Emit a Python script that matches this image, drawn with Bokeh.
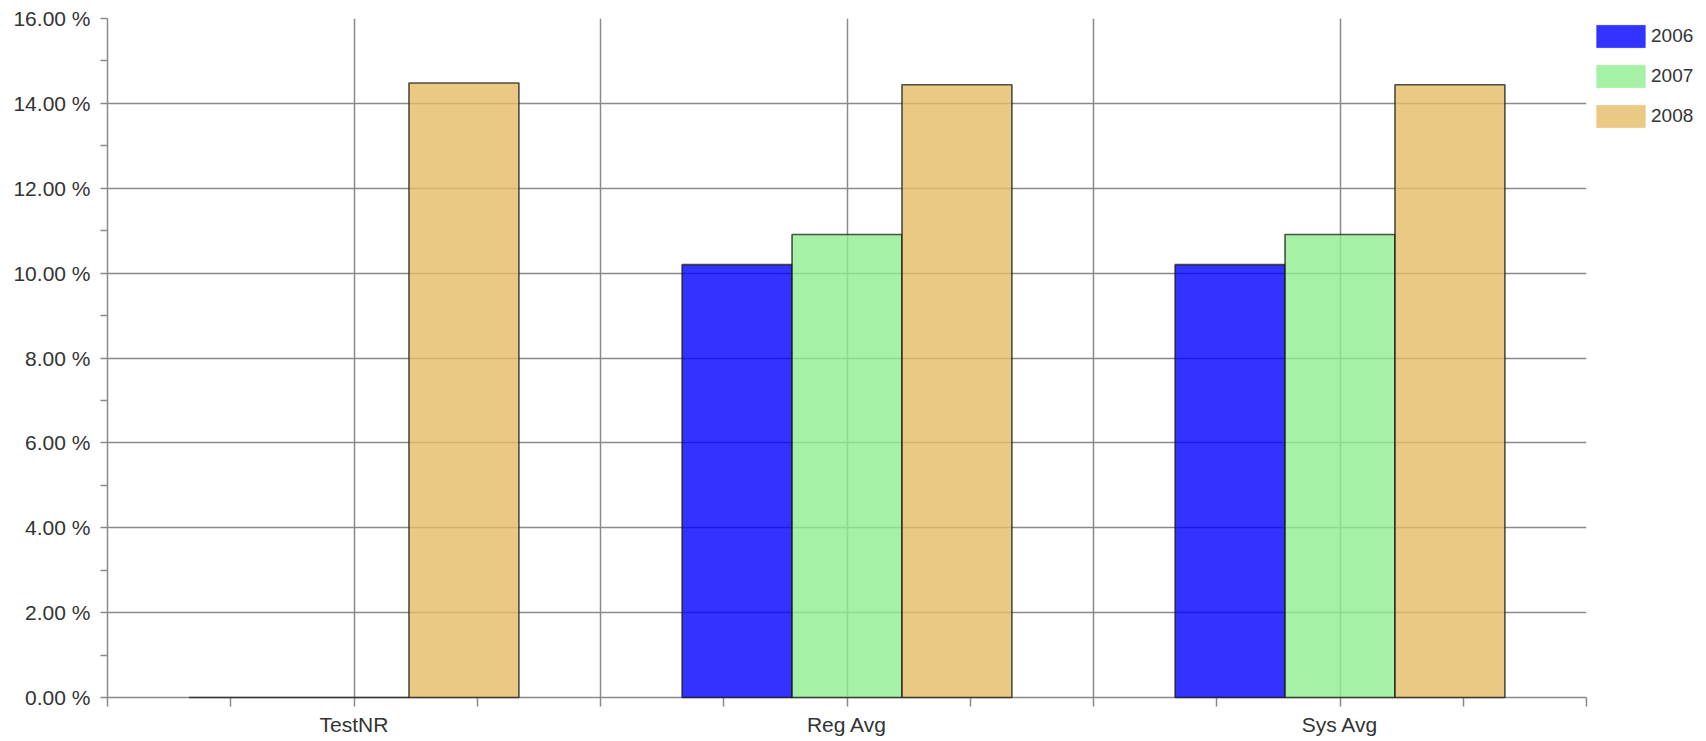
from bokeh.plotting import figure
from bokeh.models import (Range1d, FixedTicker, PrintfTickFormatter, Legend, LegendItem,
                          ColumnDataSource)
from bokeh.embed import file_html
from bokeh.resources import INLINE

categories = ["TestNR", "Reg Avg", "Sys Avg"]
years = ["2006", "2007", "2008"]
values_2006 = [0.0, 10.20, 10.20]
values_2007 = [0.0, 10.91, 10.91]
values_2008 = [14.48, 14.44, 14.44]
series = [values_2006, values_2007, values_2008]
colors = ["#0000FF", "#90EE90", "#E5BC67"]
y_ticks = [0, 2, 4, 6, 8, 10, 12, 14, 16]

FONT = "Liberation Sans"
BAR_W = 0.223
offsets = [-BAR_W, 0.0, BAR_W]
NAN = float("nan")

p = figure(frame_width=1479, frame_height=679, output_backend="svg", toolbar_location=None,
           x_range=Range1d(0, len(categories)), y_range=Range1d(0, 16),
           min_border_left=107, min_border_top=18, min_border_right=116, min_border_bottom=40)
p.outline_line_color = None
p.background_fill_color = "white"

legend_items = []
for yr, vals, col, off in zip(years, series, colors, offsets):
    src = ColumnDataSource(dict(x=[i + 0.5 + off for i in range(len(categories))], top=vals))
    r = p.vbar(x="x", top="top", bottom=0, width=BAR_W, source=src,
               fill_color=col, fill_alpha=0.8, line_color="#1a1a1a", line_alpha=0.75, line_width=1.6)
    r.level = "overlay"
    # legend-only swatch renderer (no visible mark)
    dummy = p.vbar(x=[NAN], top=[NAN], bottom=0, width=BAR_W, fill_color=col, fill_alpha=0.8,
                   line_color=col, line_alpha=0.3, line_width=1)
    legend_items.append(LegendItem(label=yr, renderers=[dummy]))

# axes
quarter_ticks = [i * 0.25 for i in range(4 * len(categories) + 1)]
xa = p.xaxis[0]
xa.ticker = FixedTicker(ticks=quarter_ticks)
overrides = {t: "" for t in quarter_ticks}
for i, c in enumerate(categories):
    overrides[i + 0.5] = c
xa.major_label_overrides = overrides
xa.major_tick_out = 9
xa.major_tick_in = 0
xa.minor_tick_out = 0
xa.major_label_standoff = 6
xa.axis_line_color = "#8a8a8a"
xa.axis_line_width = 1.5
xa.major_tick_line_color = "#8a8a8a"
xa.major_tick_line_width = 1.5
xa.major_label_text_font = FONT
xa.major_label_text_font_size = "21px"
xa.major_label_text_color = "#333333"

ya = p.yaxis[0]
ya.ticker = FixedTicker(ticks=y_ticks, minor_ticks=[t + 1 for t in y_ticks[:-1]])
ya.formatter = PrintfTickFormatter(format="%.2f %%")
ya.major_tick_out = 7
ya.major_tick_in = 0
ya.minor_tick_out = 7
ya.minor_tick_in = 0
ya.major_label_standoff = 10
ya.axis_line_color = "#8a8a8a"
ya.axis_line_width = 1.5
ya.major_tick_line_color = "#8a8a8a"
ya.major_tick_line_width = 1.5
ya.minor_tick_line_color = "#8a8a8a"
ya.minor_tick_line_width = 1.5
ya.major_label_text_font = FONT
ya.major_label_text_font_size = "21px"
ya.major_label_text_color = "#333333"

# grids
p.xgrid.ticker = FixedTicker(ticks=[i * 0.5 for i in range(2 * len(categories) + 1)])
p.xgrid.grid_line_color = "#8a8a8a"
p.xgrid.grid_line_width = 1.5
p.ygrid.ticker = FixedTicker(ticks=y_ticks)
p.ygrid.grid_line_color = "#8a8a8a"
p.ygrid.grid_line_width = 1.5

legend = Legend(items=legend_items, location="top_left", orientation="vertical")
legend.margin = 4
legend.padding = 0
legend.glyph_width = 61
legend.glyph_height = 28
legend.label_height = 28
legend.spacing = 12
legend.label_standoff = 0
legend.label_text_font = FONT
legend.label_text_font_size = "19px"
legend.label_text_color = "#333333"
legend.border_line_color = None
legend.background_fill_alpha = 0
p.add_layout(legend, "right")

open("out.html", "w").write(file_html(p, INLINE))
